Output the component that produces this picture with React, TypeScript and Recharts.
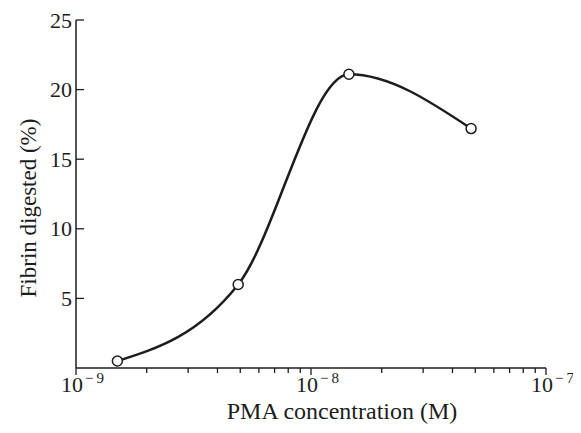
import React from "react";
import { LineChart, Line, XAxis, YAxis, Label } from "recharts";

const concentrations = [1.5e-9, 4.9e-9, 1.45e-8, 4.8e-8];
const fibrinDigested = [0.5, 6.0, 21.1, 17.2];
const xTicks = [
  1e-9, 2e-9, 3e-9, 4e-9, 5e-9, 6e-9, 7e-9, 8e-9, 9e-9,
  1e-8, 2e-8, 3e-8, 4e-8, 5e-8, 6e-8, 7e-8, 8e-8, 9e-8, 1e-7,
];
const yTicks = [5, 10, 15, 20, 25];

const data = concentrations.map((c, i) => ({ conc: c, value: fibrinDigested[i] }));

const INK = "#1c1c1c";
const FONT = "'Liberation Serif', 'DejaVu Serif', serif";

const XTick = (props: any) => {
  const { x, y, payload } = props;
  const v = payload.value as number;
  const exp = Math.round(Math.log10(v));
  const major = Math.abs(v - Math.pow(10, exp)) / v < 1e-6;
  return (
    <g>
      <line x1={x} x2={x} y1={y} y2={y + (major ? 7 : 5)} stroke={INK} strokeWidth={1.3} />
      {major && (
        <text x={x - 15} y={y + 24} fill={INK} fontFamily={FONT} fontSize={22}>
          10
          <tspan dx={2} dy={-9} fontSize={15}>
            {"\u2212\u2009" + String(-exp)}
          </tspan>
        </text>
      )}
    </g>
  );
};

const YTick = (props: any) => {
  const { x, y, payload } = props;
  return (
    <g>
      <line x1={x} x2={x + 8} y1={y} y2={y} stroke={INK} strokeWidth={1.3} />
      <text x={x - 4} y={y} fill={INK} fontFamily={FONT} fontSize={22} textAnchor="end" dominantBaseline="central">
        {payload.value}
      </text>
    </g>
  );
};

const YLabel = (props: any) => {
  const { x, y, height } = props.viewBox;
  const cx = x + 20;
  const cy = y + height / 2 + 14;
  return (
    <text
      x={cx}
      y={cy}
      transform={`rotate(-90 ${cx} ${cy})`}
      textAnchor="middle"
      dominantBaseline="central"
      fill={INK}
      fontFamily={FONT}
      fontSize={23}
    >
      Fibrin digested (%)
    </text>
  );
};

const XLabel = (props: any) => {
  const { x, y, width, height } = props.viewBox;
  const cx = x + width / 2 + 31;
  const cy = y + height - 22;
  return (
    <text x={cx} y={cy} textAnchor="middle" dominantBaseline="central" fill={INK} fontFamily={FONT} fontSize={24}>
      PMA concentration (M)
    </text>
  );
};

const OpenDot = (props: any) => {
  const { cx, cy } = props;
  return <circle cx={cx} cy={cy} r={5} fill="#fff" stroke={INK} strokeWidth={1.5} />;
};

export default function App() {
  return (
    <div style={{ width: 573, height: 425, background: "#fff" }}>
      <LineChart
        width={573}
        height={425}
        data={data}
        margin={{ top: 12, right: 35, left: 0, bottom: 0 }}
        style={{ overflow: "visible" }}
      >
        <XAxis
          dataKey="conc"
          type="number"
          scale="log"
          domain={[1e-9, 1e-7]}
          ticks={xTicks}
          interval={0}
          allowDataOverflow
          height={65}
          tickSize={0}
          tickMargin={0}
          tickLine={false}
          axisLine={{ stroke: INK, strokeWidth: 1.5 }}
          tick={<XTick />}
        >
          <Label content={<XLabel />} />
        </XAxis>
        <YAxis
          type="number"
          domain={[0, 25]}
          ticks={yTicks}
          interval={0}
          width={68}
          tickSize={0}
          tickMargin={0}
          tickLine={false}
          axisLine={{ stroke: INK, strokeWidth: 1.5 }}
          tick={<YTick />}
        >
          <Label content={<YLabel />} />
        </YAxis>
        <Line
          type="monotoneX"
          dataKey="value"
          stroke={INK}
          strokeWidth={2.5}
          dot={<OpenDot />}
          activeDot={false}
          isAnimationActive={false}
        />
      </LineChart>
    </div>
  );
}
